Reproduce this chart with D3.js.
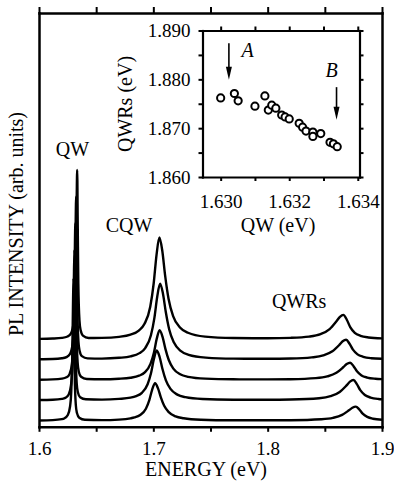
<!DOCTYPE html>
<html>
<head>
<meta charset="utf-8">
<script src="https://cdn.jsdelivr.net/npm/d3@7"></script>
<style>
  body { margin: 0; background: #fff; }
  svg { display: block; }
  svg text { font-family: "Liberation Serif", "DejaVu Serif", "Times New Roman", serif; fill: #000; }
</style>
</head>
<body>
<svg width="394" height="483"></svg>
<script>
// PL spectra, top to bottom: [energy (eV), intensity above its own baseline (arb.)]
var spectrum1 = [
  [1.600,0.02],[1.612,0.035],[1.620,0.066],[1.625,0.136],[1.628,0.29],[1.6304,0.85],[1.6314,1.68],[1.6324,4.17],
  [1.6329,6.64],[1.6334,8.32],[1.6339,5.49],[1.6344,2.73],[1.6354,0.92],[1.6364,0.45],[1.6384,0.18],[1.6434,0.065],
  [1.655,0.07],[1.670,0.12],[1.680,0.225],[1.6873,0.43],[1.6923,0.76],[1.6973,1.6],[1.7003,2.74],[1.7028,4.15],
  [1.7053,5.0],[1.7078,4.36],[1.7103,3.14],[1.7133,1.99],[1.7173,1.14],[1.7233,0.58],[1.7303,0.32],[1.7453,0.13],
  [1.770,0.063],[1.800,0.05],[1.820,0.07],[1.8362,0.13],[1.8462,0.25],[1.8542,0.50],[1.8602,0.885],[1.8632,1.10],
  [1.8662,1.20],[1.8692,0.96],[1.8722,0.60],[1.8762,0.32],[1.8812,0.17],[1.8882,0.09],[1.900,0.045]
];
var spectrum2 = [
  [1.600,0.02],[1.612,0.03],[1.620,0.065],[1.624,0.125],[1.627,0.27],[1.6295,0.815],[1.6305,1.615],[1.6315,4.02],
  [1.6320,6.4],[1.6325,8.0],[1.6330,5.3],[1.6335,2.63],[1.6345,0.89],[1.6355,0.435],[1.6375,0.17],[1.6425,0.06],
  [1.655,0.05],[1.670,0.09],[1.680,0.16],[1.6879,0.32],[1.6929,0.57],[1.6979,1.20],[1.7009,2.04],[1.7034,3.09],
  [1.7059,3.73],[1.7084,3.25],[1.7109,2.34],[1.7139,1.48],[1.7179,0.85],[1.7239,0.43],[1.7309,0.235],[1.7459,0.10],
  [1.770,0.048],[1.800,0.04],[1.820,0.052],[1.8386,0.11],[1.8486,0.205],[1.8566,0.41],[1.8626,0.72],[1.8656,0.90],
  [1.8686,0.98],[1.8716,0.78],[1.8746,0.49],[1.8786,0.26],[1.8836,0.14],[1.8906,0.07],[1.900,0.04]
];
var spectrum3 = [
  [1.600,0.015],[1.612,0.028],[1.620,0.064],[1.624,0.13],[1.6268,0.30],[1.6288,0.78],[1.6298,1.55],[1.6308,3.85],
  [1.6313,6.16],[1.6318,7.7],[1.6323,5.10],[1.6328,2.53],[1.6338,0.85],[1.6348,0.41],[1.6368,0.16],[1.6418,0.05],
  [1.655,0.035],[1.670,0.06],[1.680,0.11],[1.6875,0.21],[1.6925,0.37],[1.6975,0.79],[1.7005,1.34],[1.7030,2.03],
  [1.7055,2.45],[1.7080,2.13],[1.7105,1.54],[1.7135,0.98],[1.7175,0.56],[1.7235,0.28],[1.7305,0.155],[1.7455,0.065],
  [1.770,0.033],[1.800,0.028],[1.820,0.038],[1.8421,0.09],[1.8521,0.175],[1.8601,0.35],[1.8661,0.625],[1.8691,0.78],
  [1.8721,0.85],[1.8751,0.68],[1.8781,0.425],[1.8821,0.225],[1.8871,0.12],[1.8941,0.06],[1.900,0.04]
];
var spectrum4 = [
  [1.600,0.015],[1.612,0.028],[1.620,0.07],[1.623,0.12],[1.626,0.29],[1.628,0.75],[1.629,1.49],[1.630,3.7],
  [1.6305,5.92],[1.6310,7.4],[1.6315,4.90],[1.6320,2.43],[1.6330,0.82],[1.6340,0.40],[1.6360,0.155],[1.6410,0.05],
  [1.655,0.035],[1.670,0.07],[1.680,0.13],[1.685,0.21],[1.690,0.37],[1.695,0.79],[1.698,1.34],[1.7005,2.03],
  [1.703,2.45],[1.7055,2.13],[1.708,1.54],[1.711,0.98],[1.715,0.56],[1.721,0.28],[1.728,0.155],[1.743,0.065],
  [1.770,0.032],[1.800,0.029],[1.820,0.04],[1.845,0.105],[1.855,0.205],[1.863,0.41],[1.869,0.735],[1.872,0.917],
  [1.875,1.0],[1.878,0.8],[1.881,0.5],[1.885,0.265],[1.890,0.138],[1.897,0.069],[1.900,0.055]
];
var spectrum5 = [
  [1.600,0.013],[1.612,0.027],[1.620,0.074],[1.622,0.11],[1.6252,0.28],[1.6272,0.71],[1.6282,1.41],[1.6292,3.5],
  [1.6297,5.6],[1.6302,7.0],[1.6307,4.63],[1.6312,2.30],[1.6322,0.77],[1.6332,0.375],[1.6352,0.145],[1.6402,0.045],
  [1.655,0.03],[1.670,0.055],[1.680,0.115],[1.6835,0.16],[1.6885,0.28],[1.6935,0.59],[1.6965,1.01],[1.6990,1.53],
  [1.7015,1.84],[1.7040,1.60],[1.7065,1.16],[1.7095,0.73],[1.7135,0.42],[1.7195,0.21],[1.7265,0.12],[1.7415,0.05],
  [1.770,0.023],[1.800,0.02],[1.820,0.025],[1.8471,0.073],[1.8571,0.14],[1.8651,0.285],[1.8711,0.51],[1.8741,0.635],
  [1.8771,0.69],[1.8801,0.555],[1.8831,0.345],[1.8871,0.185],[1.8921,0.095],[1.900,0.045]
];
var spectra = [spectrum1, spectrum2, spectrum3, spectrum4, spectrum5];
var offsets = [4, 3, 2, 1, 0]; // vertical shift of each spectrum

var energyTicks = [1.6, 1.65, 1.7, 1.75, 1.8, 1.85, 1.9];
var energyLabels = [1.6, 1.7, 1.8, 1.9];
var peakNames = ["QW", "CQW", "QWRs"];

// inset: QWR peak energy vs QW peak energy
var qwEnergy = [1.6300, 1.63040, 1.63051, 1.63100, 1.63129, 1.63139, 1.63149, 1.63161, 1.63178, 1.63188,
                1.63200, 1.63229, 1.63239, 1.63249, 1.63269, 1.63269, 1.63292, 1.63319, 1.63329, 1.63340];
var qwrEnergy = [1.8762, 1.8771, 1.8756, 1.8745, 1.8766, 1.8737, 1.8747, 1.8741, 1.8727, 1.8723,
                 1.8719, 1.8710, 1.8702, 1.8694, 1.8692, 1.8683, 1.8689, 1.8671, 1.8668, 1.8662];
var insetXTicks = [1.630, 1.631, 1.632, 1.633, 1.634];
var insetXLabels = [1.630, 1.632, 1.634];
var insetYTicks = [1.860, 1.865, 1.870, 1.875, 1.880, 1.885, 1.890];
var insetYLabels = [1.860, 1.870, 1.880, 1.890];
// arrows marking samples A and B: [qw, qwr from, qwr to]
var arrowNames = ["A", "B"];
var arrows = [[1.63024, 1.8874, 1.8799], [1.63338, 1.8784, 1.8717]];

var serif = "Liberation Serif, DejaVu Serif, Times New Roman, serif";
var svg = d3.select("svg");

var x = d3.scaleLinear().domain([1.6, 1.9]).range([39, 382]);
var y = d3.scaleLinear().domain([-0.3, 20.03]).range([426.8, 13]);

svg.append("clipPath").attr("id", "plot")
  .append("rect").attr("x", 39).attr("y", 13).attr("width", 343).attr("height", 413.8);

var line = d3.line()
  .x(function (d) { return x(d[0]); })
  .y(function (d) { return y(d[1]); })
  .curve(d3.curveMonotoneX);

svg.append("g").attr("clip-path", "url(#plot)")
  .selectAll("path")
  .data(spectra)
  .enter()
  .append("path")
  .attr("d", function (d, i) {
    return line(d.map(function (p) { return [p[0], p[1] + offsets[i]]; }));
  })
  .attr("fill", "none")
  .attr("stroke", "#000")
  .attr("stroke-width", 2.4)
  .attr("stroke-linejoin", "round");

// main frame
function styleAxis(g, w) {
  g.attr("font-family", serif);
  g.select(".domain").attr("stroke-width", w).attr("stroke-linecap", "square");
  g.selectAll(".tick line").attr("stroke-width", 2);
  g.selectAll("text").attr("font-family", serif).attr("fill", "#000");
}

var fmt1 = d3.format(".1f");
var gx = svg.append("g").attr("transform", "translate(0," + y(-0.3) + ")")
  .call(d3.axisBottom(x).tickValues(energyTicks).tickSize(5).tickSizeOuter(0).tickPadding(10)
    .tickFormat(function (d) { return energyLabels.indexOf(d) >= 0 ? fmt1(d) : ""; }));
gx.selectAll("text").attr("font-size", 19);
styleAxis(gx, 2.5);

var gxt = svg.append("g").attr("transform", "translate(0," + y.range()[1] + ")")
  .call(d3.axisTop(x).tickValues(energyTicks).tickSize(6).tickSizeOuter(0).tickFormat(""));
styleAxis(gxt, 2.5);

var gl = svg.append("g").attr("transform", "translate(" + x(1.6) + ",0)")
  .call(d3.axisLeft(y).tickValues([]).tickSizeOuter(0));
styleAxis(gl, 2.5);
var gr = svg.append("g").attr("transform", "translate(" + x(1.9) + ",0)")
  .call(d3.axisRight(y).tickValues([]).tickSizeOuter(0));
styleAxis(gr, 2.5);

svg.append("text")
  .attr("x", 206).attr("y", 476)
  .attr("text-anchor", "middle").attr("font-size", 20).attr("font-family", serif)
  .text("ENERGY (eV)");

svg.append("text")
  .attr("transform", "translate(23,224) rotate(-90)")
  .attr("text-anchor", "middle").attr("font-size", 20).attr("font-family", serif)
  .text("PL INTENSITY (arb. units)");

// peak labels
var peakPos = [[1.6293, 13.0], [1.6787, 9.27], [1.8275, 5.54]];
svg.append("g").selectAll("text")
  .data(peakNames)
  .enter()
  .append("text")
  .attr("x", function (d, i) { return x(peakPos[i][0]); })
  .attr("y", function (d, i) { return y(peakPos[i][1]); })
  .attr("text-anchor", "middle").attr("font-size", 20).attr("font-family", serif)
  .text(function (d) { return d; });

// inset
var xi = d3.scaleLinear().domain([1.62947, 1.63405]).range([202.5, 359.5]);
var yi = d3.scaleLinear().domain([1.860, 1.890]).range([177, 30.5]);

svg.append("rect")
  .attr("x", 202.5).attr("y", 30.5).attr("width", 157).attr("height", 146.5)
  .attr("fill", "#fff");

var fmt3 = d3.format(".3f");
var ib = svg.append("g").attr("transform", "translate(0,177)")
  .call(d3.axisBottom(xi).tickValues(insetXTicks).tickSize(4).tickSizeOuter(0).tickPadding(14)
    .tickFormat(function (d) { return insetXLabels.indexOf(d) >= 0 ? fmt3(d) : ""; }));
ib.selectAll("text").attr("font-size", 19);
styleAxis(ib, 2.2);
var it = svg.append("g").attr("transform", "translate(0,30.5)")
  .call(d3.axisTop(xi).tickValues(insetXTicks).tickSize(4).tickSizeOuter(0).tickFormat(""));
styleAxis(it, 2.2);
var il = svg.append("g").attr("transform", "translate(202.5,0)")
  .call(d3.axisLeft(yi).tickValues(insetYTicks).tickSize(4).tickSizeOuter(0).tickPadding(8)
    .tickFormat(function (d) { return insetYLabels.indexOf(d) >= 0 ? fmt3(d) : ""; }));
il.selectAll("text").attr("font-size", 19);
styleAxis(il, 2.2);
var ir = svg.append("g").attr("transform", "translate(359.5,0)")
  .call(d3.axisRight(yi).tickValues(insetYTicks).tickSize(4).tickSizeOuter(0).tickFormat(""));
styleAxis(ir, 2.2);

svg.append("text")
  .attr("x", 278).attr("y", 231.5)
  .attr("text-anchor", "middle").attr("font-size", 20).attr("font-family", serif)
  .text("QW (eV)");
svg.append("text")
  .attr("transform", "translate(132,104) rotate(-90)")
  .attr("text-anchor", "middle").attr("font-size", 20).attr("font-family", serif)
  .text("QWRs (eV)");

svg.append("g").selectAll("circle")
  .data(qwEnergy)
  .enter()
  .append("circle")
  .attr("cx", function (d) { return xi(d); })
  .attr("cy", function (d, i) { return yi(qwrEnergy[i]); })
  .attr("r", 3.6)
  .attr("fill", "#fff")
  .attr("stroke", "#000")
  .attr("stroke-width", 2);

// arrows A, B
var ag = svg.append("g");
arrows.forEach(function (a, i) {
  var ax = xi(a[0]), y0 = yi(a[1]), y1 = yi(a[2]);
  ag.append("line")
    .attr("x1", ax).attr("x2", ax).attr("y1", y0).attr("y2", y1 - 8)
    .attr("stroke", "#000").attr("stroke-width", 1.6);
  ag.append("path")
    .attr("d", "M" + (ax - 3) + "," + (y1 - 13) + "L" + (ax + 3) + "," + (y1 - 13) + "L" + ax + "," + y1 + "Z")
    .attr("fill", "#000");
});
var labelPos = [[247.5, 57], [331.7, 77]];
ag.selectAll("text")
  .data(arrowNames)
  .enter()
  .append("text")
  .attr("x", function (d, i) { return labelPos[i][0]; })
  .attr("y", function (d, i) { return labelPos[i][1]; })
  .attr("text-anchor", "middle").attr("font-size", 20).attr("font-style", "italic").attr("font-family", serif)
  .text(function (d) { return d; });
</script>
</body>
</html>
